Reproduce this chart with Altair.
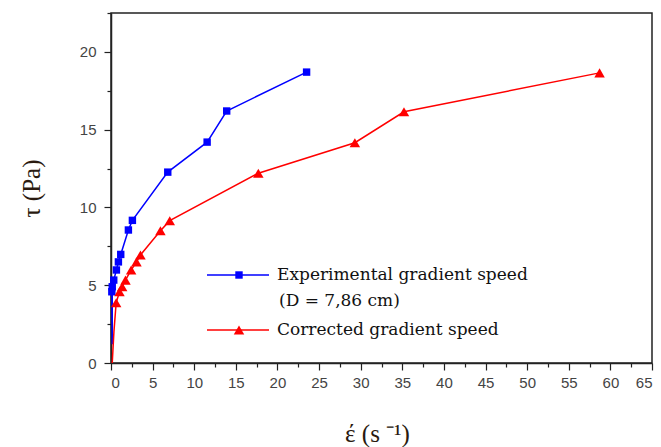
import altair as alt
import pandas as pd

# Shear stress τ (Pa) against gradient speed ε̇ (1/s)
exp_rate = [23.5, 13.9, 11.55, 6.82, 2.57, 2.09, 1.17, 0.89, 0.65, 0.33, 0.15, 0.1]
exp_tau = [18.7, 16.2, 14.2, 12.27, 9.17, 8.55, 6.98, 6.5, 5.98, 5.33, 4.9, 4.58]
exp_tail_rate = [0.1, 0.15]
exp_tail_tau = [4.58, 1.2]

cor_rate = [58.7, 35.2, 29.3, 17.7, 7.06, 5.94, 3.54, 3.06, 2.42, 1.74, 1.34, 1.02, 0.62]
cor_tau = [18.65, 16.15, 14.16, 12.2, 9.15, 8.5, 6.94, 6.5, 5.98, 5.33, 4.9, 4.58, 3.87]
cor_tail_rate = [0.62, 0.35, 0.15]
cor_tail_tau = [3.87, 2.0, 0.0]

x_ticks = [i * 2.5 for i in range(27)]   # 0 … 65
y_ticks = [i * 2.5 for i in range(10)]   # 0 … 22.5

legend_lines = ["Experimental gradient speed", "(D = 7,86 cm)", "Corrected gradient speed"]

BLUE = "#0000FF"
RED = "#FF0000"

exp_df = pd.DataFrame({"rate": exp_rate, "tau": exp_tau})
exp_tail_df = pd.DataFrame({"rate": exp_tail_rate + exp_rate, "tau": exp_tail_tau + exp_tau})
cor_df = pd.DataFrame({"rate": cor_rate, "tau": cor_tau})
cor_tail_df = pd.DataFrame({"rate": cor_tail_rate + cor_rate, "tau": cor_tail_tau + cor_tau})

x_scale = alt.Scale(domain=[0, 65], nice=False, zero=False)
y_scale = alt.Scale(domain=[0, 22.5], nice=False, zero=False)

major_size = {"condition": {"test": "datum.value % 5 === 0", "value": 7}, "value": 4}

x_axis = alt.Axis(
    values=x_ticks,
    labelExpr="datum.value % 5 === 0 ? format(datum.value, 'd') : ''",
    tickSize=major_size,
    grid=False,
    title="έ (s ⁻¹)",
    titleX=266,
    titleY=70,
    titleBaseline="middle",
    labelPadding=5,
)
y_axis = alt.Axis(
    values=y_ticks,
    labelExpr="datum.value % 5 === 0 ? format(datum.value, 'd') : ''",
    tickSize=major_size,
    grid=False,
    title="τ (Pa)",
    titleX=-80,
    titleY=175,
    titleAngle=-90,
    titleAlign="center",
    titleBaseline="middle",
    labelPadding=8,
)

X = alt.X("rate:Q", scale=x_scale, axis=x_axis)
Y = alt.Y("tau:Q", scale=y_scale, axis=y_axis)

SQ_SIZE = 55
TRI_SIZE = 110


def series(tail_df, pts_df, color, shape, size):
    line = alt.Chart(tail_df).mark_line(color=color, strokeWidth=1.5, clip=True).encode(
        x=X, y=Y, order="rate:Q"
    )
    pts = alt.Chart(pts_df).mark_point(
        shape=shape, filled=True, color=color, size=size, opacity=1, strokeWidth=0
    ).encode(x=X, y=Y)
    return line + pts


blue = series(exp_tail_df, exp_df, BLUE, "square", SQ_SIZE)
red = series(cor_tail_df, cor_df, RED, "triangle-up", TRI_SIZE)

# legend drawn inside the plot area
one = pd.DataFrame({"k": [0]})


def legend_entry(color, shape, size, ypix):
    rule = alt.Chart(one).mark_rule(color=color, strokeWidth=1.5).encode(
        x=alt.value(96), x2=alt.value(158), y=alt.value(ypix)
    )
    sym = alt.Chart(one).mark_point(
        shape=shape, filled=True, color=color, size=size, opacity=1, strokeWidth=0
    ).encode(x=alt.value(128), y=alt.value(ypix))
    return rule + sym


def legend_text(txt, xpix, ypix):
    return alt.Chart(one).mark_text(
        text=txt, align="left", baseline="middle", font="DejaVu Serif",
        fontSize=17, color="#111",
    ).encode(x=alt.value(xpix), y=alt.value(ypix))


legend = (
    legend_entry(BLUE, "square", SQ_SIZE, 262)
    + legend_entry(RED, "triangle-up", TRI_SIZE, 317)
    + legend_text(legend_lines[0], 166, 262)
    + legend_text(legend_lines[1], 168, 288)
    + legend_text(legend_lines[2], 166, 317)
)

chart = (
    (blue + red + legend)
    .properties(
        width=541,
        height=350,
        autosize=alt.AutoSizeParams(type="none"),
        padding={"left": 111, "top": 13, "right": 9, "bottom": 84},
    )
    .configure_view(stroke="#222", strokeWidth=1.5)
    .configure_axis(
        domainColor="#222",
        domainWidth=1.5,
        tickColor="#222",
        tickWidth=1.2,
        labelFont="Liberation Sans",
        labelFontSize=15,
        labelColor="#444",
        titleFont="Liberation Serif",
        titleFontSize=25,
        titleFontWeight="normal",
        titleColor="#2a1a10",
    )
)

chart.save("out.html", embed_options={"renderer": "svg", "actions": False})
